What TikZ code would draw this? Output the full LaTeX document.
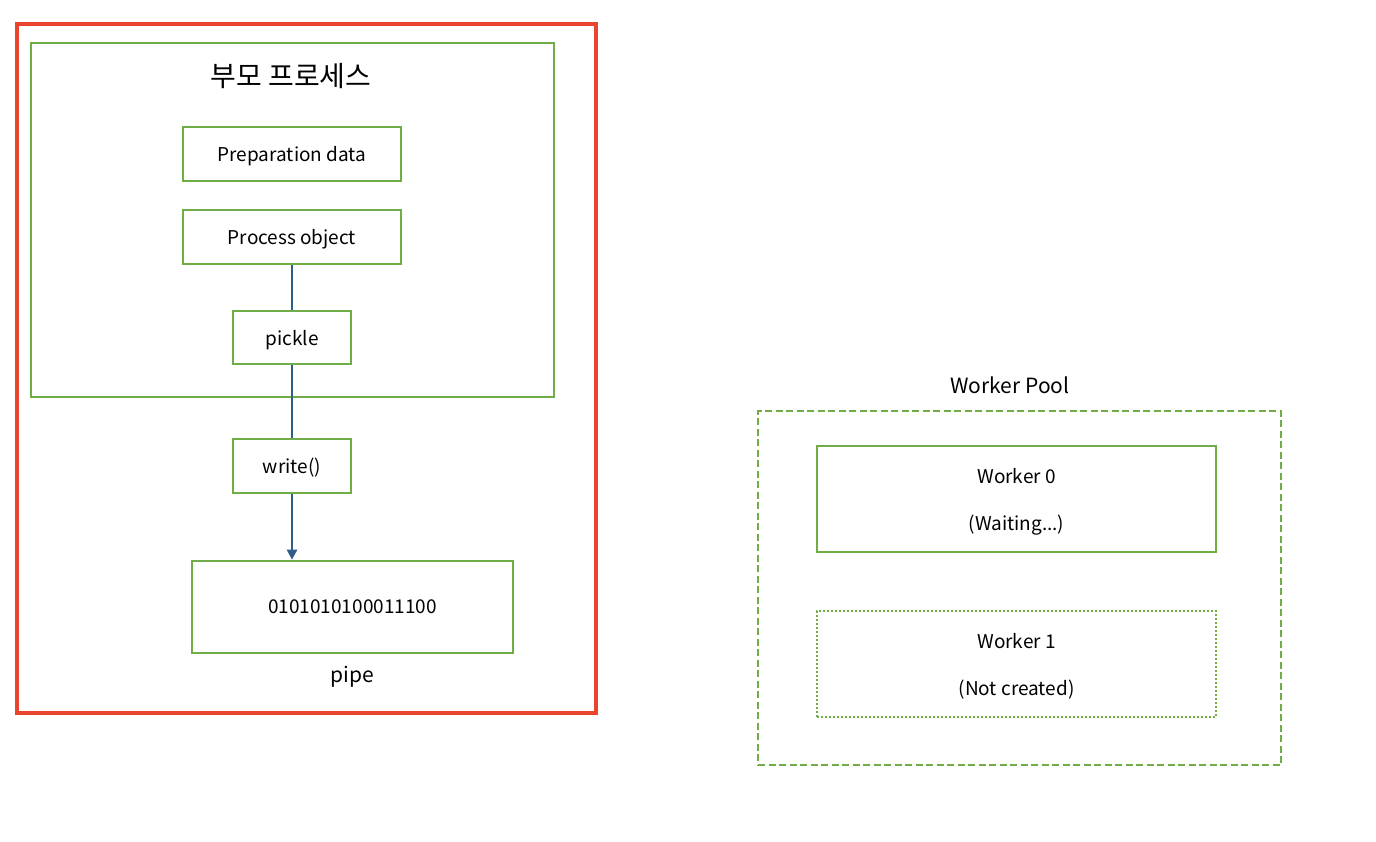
\documentclass[tikz,border=0pt]{standalone}
\usepackage{fontspec}
\setmainfont{Noto Sans CJK KR}
\usetikzlibrary{arrows.meta}
\definecolor{boxgreen}{HTML}{70AD47}
\definecolor{framered}{HTML}{E8452C}
\definecolor{arrowblue}{HTML}{2E5F8A}

\begin{document}
\begin{tikzpicture}[x=1pt,y=-1pt,
    box/.style={draw=boxgreen,line width=2.6pt,inner sep=0pt,text depth=0pt,font=\fontsize{19}{23}\selectfont},
    label/.style={inner sep=0pt,font=\fontsize{21}{25}\selectfont},
    link/.style={draw=arrowblue,line width=2.4pt}]
    \useasboundingbox(0,0)rectangle(1376,842);
    \node[draw=framered,line width=4pt,minimum width=579pt,minimum height=688pt](frame)at(306,368.5){};
    \node[box,minimum width=523pt,minimum height=354pt](parent)at(292.5,220){};
    \node[label,font=\fontsize{28}{33}\selectfont](title)at(291,76){부모 프로세스};
    \node[box,minimum width=218pt,minimum height=54pt](prep)at(292,154){Preparation data};
    \node[box,minimum width=218pt,minimum height=54pt](proc)at(292,237){Process object};
    \node[box,minimum width=118pt,minimum height=53pt](pickle)at(292,337.5){pickle};
    \node[box,minimum width=118pt,minimum height=54pt](write)at(292,466){write()};
    \node[box,minimum width=321pt,minimum height=92pt](pipe)at(352.5,607){0101010100011100};
    \node[label](pipelabel)at(352,677){pipe};
    \draw[link](proc)--(pickle);
    \draw[link](pickle)--(write);
    \draw[link,-{Triangle[length=10pt,width=10pt]}](write.south)--(write.south|-pipe.north);
    \node[label](poollabel)at(1010,385){Worker Pool};
    \node[box,dashed,dash pattern=on 7pt off 3.5pt,minimum width=523pt,minimum height=354pt](pool)at(1019.5,588){};
    \node[box,align=center,minimum width=399pt,minimum height=106pt](worker0)at(1016.5,499){Worker 0\\[24pt](Waiting...)};
    \node[box,align=center,dash pattern=on 2pt off 2pt,minimum width=399pt,minimum height=106pt](worker1)at(1016.5,664){Worker 1\\[24pt](Not created)};
\end{tikzpicture}
\end{document}
